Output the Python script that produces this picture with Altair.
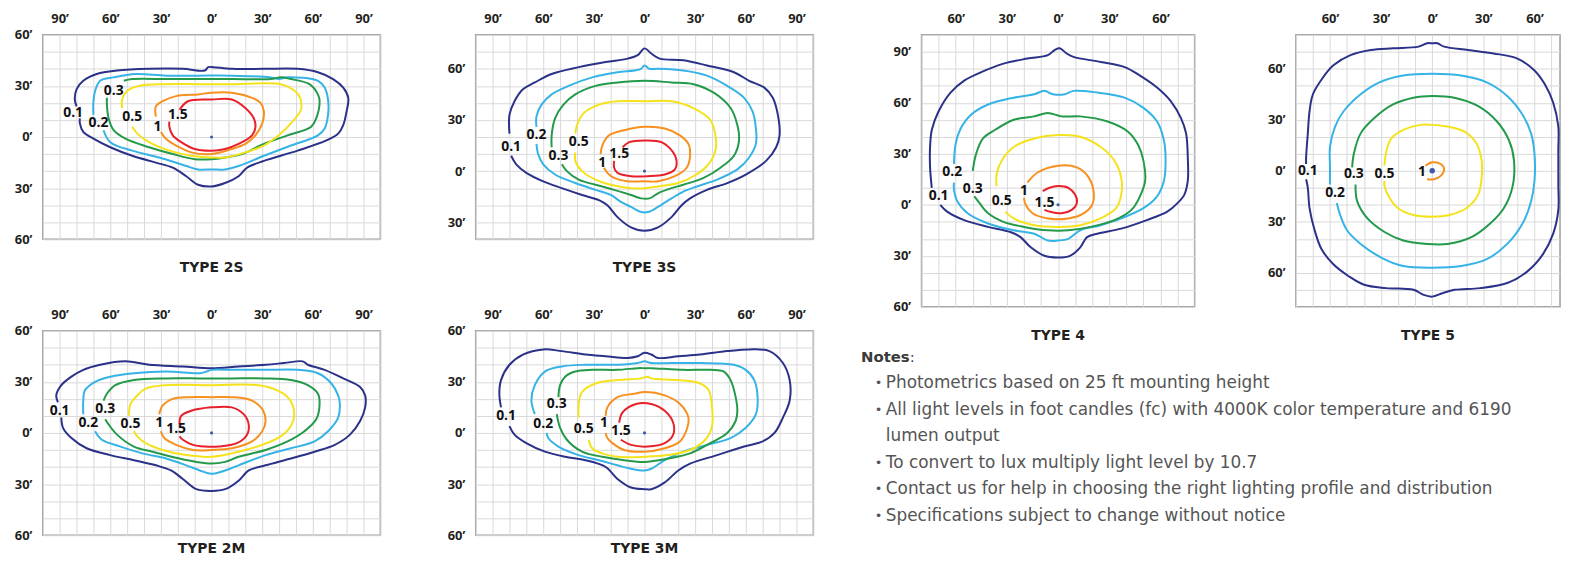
import altair as alt
import pandas as pd

LEVELS = ["0.1", "0.2", "0.3", "0.5", "1", "1.5"]
COLORS = ["#2b3188", "#36b3e6", "#23994a", "#f4e31c", "#f7901e", "#e8202a"]

# ---------------- TYPE 2S ----------------
S2_01 = [(-80,18),(-81,22),(-80,28),(-76,33),(-68,37),(-56,39),(-37,40),(-17,40),(-4,39),(-2,41),(1,41),(12,40),(31,40),(51,40),(63,38),(72,34),(78,29),(81,23),(80,15),(78,7),(75,2),(68,-2),(51,-8),(31,-14),(21,-18),(16,-23),(8,-27),(0,-29),(-8,-28),(-15,-23),(-23,-18),(-33,-15),(-47,-11),(-60,-6),(-70,-1),(-76,3),(-78,8),(-78,11)]
S2_02 = [(-70,13),(-70,21),(-69,27),(-66,33),(-58,35),(-45,37),(-27,36),(-8,36),(12,36),(35,35),(40,34),(45,35),(63,33),(67,29),(69,22),(69,13),(67,5),(63,1),(47,-5),(31,-11),(16,-17),(8,-19),(0,-19),(-8,-19),(-15,-17),(-31,-12),(-47,-8),(-60,-3),(-64,4)]
S2_03 = [(-52,33),(-47,34),(-27,34),(-8,34),(12,34),(35,34),(41,35),(47,34),(58,31),(63,25),(64,21),(62,11),(59,6),(45,1),(31,-4),(18,-10),(8,-12),(0,-13),(-10,-13),(-23,-10),(-37,-6),(-51,-1),(-58,4),(-61,11),(-62,19),(-62,23)]
S2_05 = [(-53,17),(-53,22),(-50,27),(-43,30),(-27,31),(-8,31),(12,31),(41,31),(48,28),(52,24),(53,21),(53,16),(47,8),(41,2),(31,-5),(20,-9),(8,-12),(0,-12),(-12,-11),(-25,-8),(-37,-3),(-44,2),(-47,6)]
S2_1 = [(-33,12),(-33,18),(-29,21),(-21,24),(-8,25),(0,26),(12,26),(24,23),(29,20),(31,15),(30,8),(26,1),(20,-4),(12,-7),(0,-10),(-12,-9),(-21,-5),(-27,-1),(-30,3)]
S2_15 = [(-19,16),(-14,21),(0,22),(12,22),(20,17),(25,11),(26,6),(24,1),(16,-4),(8,-7),(0,-8),(-10,-7),(-18,-3),(-23,1),(-25,6),(-25,9)]
S2_LAB = [(-82,14),(-67,8),(-58,27),(-47,12),(-32,6),(-20,13)]

# ---------------- TYPE 3S ----------------
S3_01 = [(-80,22),(-80,33),(-77,41),(-72,48),(-65,52),(-55,57),(-39,61),(-23,64),(-10,66),(-4,68),(0,72),(4,69),(9,66),(23,65),(37,62),(53,58),(62,53),(71,49),(76,43),(79,33),(80,21),(78,14),(72,6),(60,-2),(49,-7),(37,-11),(27,-16),(22,-20),(16,-27),(8,-33),(0,-35),(-8,-33),(-16,-27),(-22,-20),(-27,-17),(-37,-14),(-49,-10),(-60,-6),(-70,-1),(-76,4),(-79,9)]
S3_02 = [(-64,26),(-64,32),(-61,39),(-55,45),(-45,50),(-31,55),(-16,58),(-6,59),(-2,60),(0,62),(3,60),(8,60),(23,59),(37,56),(49,50),(59,43),(64,35),(66,25),(66,16),(62,8),(55,1),(43,-5),(31,-9),(23,-12),(16,-16),(8,-21),(2,-24),(-2,-24),(-8,-21),(-14,-18),(-20,-14),(-29,-11),(-41,-7),(-53,-2),(-60,4),(-63,10),(-64,16)]
S3_03 = [(-55,14),(-55,21),(-53,31),(-48,39),(-41,45),(-29,50),(-16,52),(0,53),(16,52),(29,51),(41,46),(51,37),(55,27),(56,18),(53,9),(45,2),(35,-4),(23,-8),(16,-10),(8,-13),(3,-16),(-2,-16),(-8,-14),(-18,-11),(-29,-8),(-39,-5),(-46,0),(-49,4)]
S3_05 = [(-41,22),(-40,27),(-36,34),(-27,39),(-16,41),(0,41),(16,41),(29,37),(39,30),(42,21),(42,12),(37,3),(29,-3),(20,-7),(8,-9),(0,-10),(-8,-10),(-20,-8),(-29,-5),(-37,0),(-41,6),(-41,11)]
S3_1 = [(-26,10),(-25,15),(-21,21),(-12,24),(0,26),(12,25),(21,21),(26,16),(27,9),(25,2),(18,-3),(8,-6),(0,-6),(-10,-6),(-18,-4),(-22,-1),(-24,2)]
S3_15 = [(-13,14),(-9,17),(0,18),(10,17),(17,11),(19,6),(18,1),(12,-2),(2,-3),(-8,-3),(-16,-1),(-18,2),(-18,6)]
S3_LAB = [(-79,14),(-64,21),(-51,9),(-39,17),(-25,5),(-15,10)]

# ---------------- TYPE 4 ----------------
T4_01 = [(-74,10),(-75,22),(-75,34),(-74,44),(-70,55),(-63,66),(-55,73),(-45,78),(-32,83),(-18,86),(-6,88),(-2,91),(1,92),(5,89),(9,87),(25,84),(39,81),(48,76),(58,69),(66,61),(72,51),(75,42),(76,28),(76,14),(74,6),(70,1),(64,-4),(52,-9),(37,-14),(23,-17),(17,-19),(13,-25),(7,-30),(0,-31),(-8,-30),(-16,-25),(-22,-19),(-28,-16),(-41,-13),(-55,-9),(-65,-4),(-69,0)]
T4_02 = [(-61,24),(-60,36),(-57,45),(-51,53),(-41,59),(-26,63),(-14,65),(-8,67),(-3,65),(4,65),(9,67),(23,66),(39,63),(50,57),(58,49),(62,38),(63,26),(62,14),(58,5),(50,-2),(37,-8),(25,-12),(13,-15),(6,-20),(0,-21),(-6,-21),(-14,-17),(-26,-15),(-41,-11),(-53,-5),(-59,2),(-61,9),(-61,13)]
T4_03 = [(-50,20),(-48,30),(-44,39),(-37,44),(-26,50),(-14,52),(-6,54),(2,52),(13,52),(29,49),(41,43),(47,35),(50,26),(51,14),(48,5),(43,-3),(33,-9),(19,-13),(6,-15),(-6,-15),(-20,-13),(-32,-10),(-41,-5),(-46,1),(-49,5)]
T4_05 = [(-36,11),(-36,18),(-33,26),(-26,34),(-14,39),(0,41),(13,40),(25,34),(33,26),(37,16),(37,6),(34,-2),(25,-8),(13,-12),(0,-13),(-14,-12),(-26,-8),(-31,-4)]
T4_1 = [(-18,13),(-12,19),(0,23),(11,22),(18,16),(21,6),(20,0),(15,-5),(6,-8),(-6,-8),(-15,-5),(-19,0),(-20,4)]
T4_15 = [(-9,8),(-5,10),(0,11),(6,10),(10,6),(11,1),(8,-3),(2,-5),(-5,-4),(-8,-3)]
T4_LAB = [(-70,5),(-62,19),(-50,9),(-33,2),(-20,8),(-8,1)]

# ---------------- TYPE 5 ----------------
T5_01 = [(-74,4),(-74,8),(-73,22),(-72,35),(-70,45),(-64,55),(-58,62),(-48,68),(-36,71),(-23,72),(-8,73),(-3,75),(0,75),(3,75),(7,73),(21,71),(36,69),(50,66),(60,59),(66,51),(71,40),(74,26),(74,12),(74,-8),(74,-23),(71,-37),(65,-49),(56,-59),(44,-66),(28,-69),(13,-70),(6,-72),(0,-74),(-5,-73),(-11,-70),(-27,-69),(-40,-67),(-49,-62),(-58,-55),(-65,-46),(-69,-35),(-72,-22),(-73,-10),(-74,-5)]
T5_02 = [(-60,-8),(-60,2),(-60,14),(-57,26),(-52,35),(-42,45),(-31,52),(-17,56),(0,57),(17,56),(32,52),(44,44),(53,33),(58,22),(60,10),(60,-6),(58,-18),(53,-31),(44,-43),(32,-52),(17,-56),(0,-57),(-17,-56),(-30,-51),(-42,-43),(-50,-35),(-54,-26),(-56,-19)]
T5_03 = [(-47,2),(-46,10),(-42,22),(-34,31),(-23,39),(-11,43),(0,44),(13,43),(27,38),(38,29),(45,18),(48,6),(47,-10),(42,-22),(34,-31),(23,-39),(9,-43),(-3,-43),(-17,-41),(-28,-36),(-38,-28),(-44,-18),(-45,-8)]
T5_05 = [(-28,3),(-27,11),(-24,19),(-17,24),(-7,27),(0,27),(9,26),(19,23),(26,16),(29,6),(29,-4),(27,-14),(20,-22),(10,-26),(0,-27),(-11,-26),(-20,-22),(-25,-16),(-28,-9),(-28,-6)]
T5_1 = [(-4,3),(0,5),(5,4),(7,1),(5,-3),(1,-5),(-3,-5)]
T5_LAB = [(-73,0),(-57,-13),(-46,-2),(-28,-2),(-6,-1)]

# ---------------- TYPE 2M ----------------
M2_01 = [(-91,18),(-92,22),(-89,28),(-83,33),(-76,37),(-66,40),(-51,42),(-37,40),(-17,39),(0,38),(16,39),(32,40),(43,41),(54,42),(57,40),(67,37),(78,32),(88,27),(91,22),(91,15),(88,7),(82,-1),(73,-7),(61,-11),(47,-15),(32,-19),(22,-22),(16,-28),(8,-33),(0,-34),(-9,-33),(-17,-27),(-24,-22),(-33,-19),(-46,-16),(-60,-13),(-74,-9),(-83,-3),(-88,3),(-89,9)]
M2_02 = [(-76,11),(-76,19),(-75,25),(-69,30),(-60,33),(-46,35),(-27,36),(-7,35),(-3,36),(0,37),(12,37),(32,37),(51,37),(63,35),(71,29),(75,22),(76,17),(75,9),(69,1),(61,-5),(47,-9),(32,-13),(16,-19),(8,-22),(0,-24),(-7,-22),(-15,-19),(-27,-15),(-41,-12),(-54,-8),(-65,-4),(-69,1)]
M2_03 = [(-64,19),(-62,23),(-57,28),(-46,31),(-27,32),(-7,32),(0,32),(12,32),(32,32),(47,31),(57,28),(63,23),(64,17),(62,8),(55,1),(45,-5),(32,-10),(16,-14),(8,-17),(0,-18),(-9,-17),(-19,-15),(-35,-11),(-46,-8),(-56,-1),(-61,5),(-63,8)]
M2_05 = [(-49,10),(-48,17),(-44,22),(-39,26),(-27,28),(0,28),(28,28),(39,25),(46,20),(49,11),(47,4),(41,-2),(30,-7),(16,-11),(0,-14),(-15,-13),(-29,-10),(-39,-6),(-44,-2),(-46,1)]
M2_1 = [(-31,11),(-29,16),(-23,20),(-13,21),(0,21),(12,21),(24,19),(30,14),(32,7),(30,1),(24,-5),(12,-9),(0,-10),(-11,-10),(-21,-7),(-28,-3),(-30,1)]
M2_15 = [(-19,5),(-18,10),(-12,13),(0,15),(12,15),(19,11),(22,5),(21,-1),(15,-6),(4,-8),(-4,-8),(-11,-7),(-17,-4),(-19,-2)]
M2_LAB = [(-90,13),(-73,6),(-63,14),(-48,5),(-31,6),(-21,2)]

# ---------------- TYPE 3M ----------------
M3_01 = [(-85,15),(-86,23),(-85,31),(-80,40),(-72,46),(-60,49),(-49,48),(-35,46),(-23,45),(-10,44),(-4,45),(0,47),(4,46),(8,44),(20,45),(33,46),(49,48),(62,49),(74,48),(82,41),(86,31),(86,19),(82,9),(77,0),(70,-5),(59,-8),(43,-13),(27,-18),(20,-22),(12,-29),(4,-33),(0,-33),(-8,-32),(-16,-27),(-23,-20),(-35,-16),(-47,-14),(-59,-11),(-70,-6),(-77,-1),(-80,4)]
M3_02 = [(-65,11),(-67,19),(-65,28),(-59,36),(-49,39),(-35,40),(-16,40),(-4,41),(0,42),(4,41),(16,41),(33,41),(53,40),(60,37),(65,31),(67,21),(66,11),(60,3),(51,-3),(37,-7),(23,-11),(12,-16),(4,-21),(0,-22),(-8,-21),(-16,-19),(-27,-16),(-39,-13),(-51,-8),(-57,-3),(-58,0)]
M3_03 = [(-51,21),(-50,28),(-47,33),(-41,36),(-31,37),(-16,37),(-4,38),(0,38),(4,38),(23,37),(39,37),(47,36),(51,31),(54,21),(55,13),(54,7),(49,0),(39,-6),(27,-12),(14,-15),(0,-17),(-12,-16),(-25,-14),(-37,-11),(-46,-4),(-50,3),(-52,11)]
M3_05 = [(-39,9),(-39,17),(-37,24),(-29,29),(-16,31),(-2,32),(2,33),(4,32),(20,31),(33,29),(38,25),(40,15),(40,4),(36,-4),(27,-10),(14,-13),(0,-14),(-16,-14),(-25,-12),(-31,-9),(-33,-4)]
M3_1 = [(-23,10),(-22,15),(-16,21),(-6,23),(0,24),(12,22),(21,17),(26,9),(25,2),(21,-5),(12,-9),(0,-11),(-12,-10),(-19,-6),(-22,-3),(-23,0)]
M3_15 = [(-15,6),(-13,12),(-5,17),(4,17),(12,13),(17,6),(17,-1),(12,-6),(2,-8),(-8,-7),(-14,-4)]
M3_LAB = [(-82,10),(-60,5),(-52,17),(-36,2),(-24,6),(-14,1)]

NOTES_HEAD = "Notes"
NOTES_LINES = [
    ("•", "Photometrics based on 25 ft mounting height"),
    ("•", "All light levels in foot candles (fc) with 4000K color temperature and 6190"),
    ("", "lumen output"),
    ("•", "To convert to lux multiply light level by 10.7"),
    ("•", "Contact us for help in choosing the right lighting profile and distribution"),
    ("•", "Specifications subject to change without notice"),
]

FONT = "Open Sans"
TFONT = "DejaVu Sans"
TXT = "#231f20"


def panel(title, contours, labels, xdom, ydom, w, h, yext, dot=10, toff=15):
    rows = []
    for lev, pts in zip(LEVELS, contours):
        for i, (x, y) in enumerate(pts):
            rows.append({"lev": lev, "i": i, "x": x, "y": y})
    df = pd.DataFrame(rows)
    lab = pd.DataFrame([{"lev": l, "x": x, "y": y} for l, (x, y) in zip(LEVELS, labels)])
    xs = alt.Scale(domain=xdom, nice=False, zero=False)
    ys = alt.Scale(domain=ydom, nice=False, zero=False)
    lexpr = "datum.value % 30 == 0 ? abs(datum.value) + '’' : ''"
    xaxis = alt.Axis(orient="top", values=list(range(xdom[0], xdom[1] + 1, 10)), tickCount=200, grid=True,
                     ticks=False, domain=False, labelExpr=lexpr, labelOverlap=False,
                     labelFlush=False, labelPadding=9, minExtent=24, maxExtent=24, title=None)
    yaxis = alt.Axis(orient="left", values=list(range(ydom[0], ydom[1] + 1, 10)), tickCount=200, grid=True,
                     ticks=False, domain=False, labelExpr=lexpr, labelOverlap=False,
                     labelFlush=False, labelPadding=11, minExtent=yext, maxExtent=yext, title=None)
    lines = alt.Chart(df).mark_line(strokeWidth=2, interpolate="catmull-rom").encode(
        x=alt.X("x:Q", scale=xs, axis=xaxis),
        y=alt.Y("y:Q", scale=ys, axis=yaxis),
        color=alt.Color("lev:N", scale=alt.Scale(domain=LEVELS, range=COLORS), legend=None),
        detail="lev:N",
        order="i:Q",
    )
    text = alt.Chart(lab).mark_text(font=FONT, fontSize=14, fontWeight="bold", color="#111111").encode(
        x="x:Q", y="y:Q", text="lev:N")
    center = alt.Chart(pd.DataFrame({"x": [0], "y": [0]})).mark_circle(color="#3d59a8", opacity=1, size=dot).encode(
        x="x:Q", y="y:Q")
    return alt.layer(lines, text, center).properties(
        width=w, height=h,
        title=alt.TitleParams(title, orient="bottom", offset=toff, font=TFONT, fontSize=14,
                              fontWeight="bold", color=TXT, frame="group"))


p2s = panel("TYPE 2S", [S2_01, S2_02, S2_03, S2_05, S2_1, S2_15], S2_LAB, [-100, 100], [-60, 60], 340, 206, 34)
p3s = panel("TYPE 3S", [S3_01, S3_02, S3_03, S3_05, S3_1, S3_15], S3_LAB, [-100, 100], [-40, 80], 340, 206, 34)
p4 = panel("TYPE 4", [T4_01, T4_02, T4_03, T4_05, T4_1, T4_15], T4_LAB, [-80, 80], [-60, 100], 275, 274, 61)
p5 = panel("TYPE 5", [T5_01, T5_02, T5_03, T5_05, T5_1], T5_LAB, [-80, 75], [-80, 80], 266, 274, 34, dot=30)
p2m = panel("TYPE 2M", [M2_01, M2_02, M2_03, M2_05, M2_1, M2_15], M2_LAB, [-100, 100], [-60, 60], 340, 206, 34, toff=0)
p3m = panel("TYPE 3M", [M3_01, M3_02, M3_03, M3_05, M3_1, M3_15], M3_LAB, [-100, 100], [-60, 60], 340, 206, 34, toff=0)

nrows = [{"row": 0, "col": "head", "t": NOTES_HEAD}]
for k, (b, t) in enumerate(NOTES_LINES):
    nrows.append({"row": k + 1, "col": "bullet", "t": b})
    nrows.append({"row": k + 1, "col": "body", "t": t})
ndf = pd.DataFrame(nrows)
ny = alt.Y("row:Q", scale=alt.Scale(domain=[-0.5, 6.5], reverse=True), axis=None)
SHIFT = -61
n_head = alt.Chart(ndf).transform_filter("datum.col == 'head'").mark_text(
    font=TFONT, fontSize=15, fontWeight="bold", color="#3a3a3a", align="left", baseline="middle", dx=SHIFT).encode(
    x=alt.value(0), y=ny, text="t:N")
n_colon = alt.Chart(ndf).transform_filter("datum.col == 'head'").mark_text(
    font=TFONT, fontSize=15, color="#3a3a3a", align="left", baseline="middle", dx=SHIFT + 49).encode(
    x=alt.value(0), y=ny, text=alt.value(":"))
n_bul = alt.Chart(ndf).transform_filter("datum.col == 'bullet'").mark_text(
    font=TFONT, fontSize=13, color="#555555", align="left", baseline="middle", dx=SHIFT + 14).encode(
    x=alt.value(0), y=ny, text="t:N")
n_body = alt.Chart(ndf).transform_filter("datum.col == 'body'").mark_text(
    font=TFONT, fontSize=17, color="#555555", align="left", baseline="middle", dx=SHIFT + 25).encode(
    x=alt.value(0), y=ny, text="t:N")
notes = alt.layer(n_head, n_colon, n_bul, n_body).properties(
    width=640, height=187, view=alt.ViewBackground(stroke=None))

left = alt.vconcat(alt.hconcat(p2s, p3s, spacing=60), alt.hconcat(p2m, p3m, spacing=60), spacing=30)
right = alt.vconcat(alt.hconcat(p4, p5, spacing=66), notes, spacing=-2)

chart = alt.hconcat(left, right, spacing=46).properties(
    padding={"top": 0, "bottom": -3, "left": 0, "right": 0}, background="white"
).configure_view(
    stroke="#9b9b9b", strokeWidth=1.5
).configure_axis(
    gridColor="#d9d9d9", gridWidth=1, gridOpacity=1,
    labelFont=FONT, labelFontSize=13, labelFontWeight="bold", labelColor=TXT
).configure_concat(spacing=0)

chart.save("out.html", embed_options={"renderer": "svg", "actions": False})
